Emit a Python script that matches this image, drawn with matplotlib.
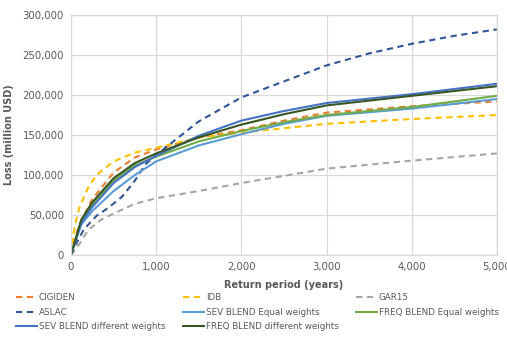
import matplotlib
matplotlib.use("Agg")
import matplotlib.pyplot as plt
from matplotlib.ticker import FuncFormatter

# return period (years) and losses (million USD)
rp_cigiden = [0, 50, 100, 250, 500, 750, 1000, 1500, 2000, 2500, 3000, 4000, 5000]
cigiden = [0, 22000, 38000, 70000, 103000, 122000, 132000, 147000, 156000, 168000, 178000, 186000, 192000]

rp_idb = [0, 25, 50, 100, 200, 300, 500, 750, 1000, 1500, 2000, 3000, 4000, 5000]
idb = [0, 24000, 38000, 60000, 84000, 100000, 117000, 128000, 134000, 147000, 153000, 164000, 170000, 175000]

rp_gar = [0, 50, 100, 200, 350, 500, 750, 1000, 1500, 2000, 3000, 4000, 5000]
gar15 = [0, 7000, 14000, 31000, 44000, 52000, 64000, 71000, 80000, 90000, 108000, 118000, 127000]

rp_aslac = [0, 50, 150, 300, 450, 600, 750, 870, 1000, 1500, 2000, 2500, 3000, 3500, 4000, 4500, 5000]
aslac = [0, 12000, 32000, 49000, 60000, 73000, 93000, 113000, 125000, 167000, 197000, 217000, 237000, 252000, 264000, 274000, 282000]

rp_blend = [0, 10, 120, 250, 500, 750, 1000, 1500, 2000, 2500, 3000, 4000, 5000]
sev_equal = [0, 4000, 38000, 55000, 80000, 100000, 117000, 137000, 151000, 164000, 174000, 183000, 195000]
freq_equal = [0, 4000, 42000, 63000, 93000, 112000, 123000, 142000, 155000, 166000, 175000, 185000, 199000]
sev_diff = [0, 4000, 40000, 60000, 90000, 110000, 124000, 149000, 168000, 180000, 190000, 201000, 214000]
freq_diff = [0, 4000, 44000, 66000, 96000, 115000, 127000, 147000, 163000, 176000, 187000, 199000, 211000]

grey = "#595959"
dash = (3, 2.2)

fig = plt.figure(figsize=(5.07, 3.41), dpi=100)
ax = fig.add_axes([0.140, 0.252, 0.840, 0.704])

l1, = ax.plot(rp_cigiden, cigiden, color="#ED7D31", lw=1.5, dashes=dash, label="CIGIDEN")
l2, = ax.plot(rp_idb, idb, color="#FFC000", lw=1.5, dashes=dash, label="IDB")
l3, = ax.plot(rp_gar, gar15, color="#A5A5A5", lw=1.5, dashes=dash, label="GAR15")
l4, = ax.plot(rp_aslac, aslac, color="#2F5597", lw=1.5, dashes=dash, label="ASLAC")
l5, = ax.plot(rp_blend, sev_equal, color="#5B9BD5", lw=1.5, label="SEV BLEND Equal weights")
l6, = ax.plot(rp_blend, freq_equal, color="#70AD47", lw=1.5, label="FREQ BLEND Equal weights")
l7, = ax.plot(rp_blend, sev_diff, color="#4472C4", lw=1.5, label="SEV BLEND different weights")
l8, = ax.plot(rp_blend, freq_diff, color="#375623", lw=1.5, label="FREQ BLEND different weights")

ax.set_xlim(0, 5000)
ax.set_ylim(0, 300000)
ax.set_xticks(range(0, 5001, 1000))
ax.set_yticks(range(0, 300001, 50000))
fmt = FuncFormatter(lambda v, p: f"{int(v):,}")
ax.xaxis.set_major_formatter(fmt)
ax.yaxis.set_major_formatter(fmt)
ax.tick_params(length=0, labelsize=7.3, labelcolor=grey, pad=5)
ax.grid(True, color="#D9D9D9", lw=0.9)
ax.set_axisbelow(True)
for s in ax.spines.values():
    s.set_color("#D9D9D9")
    s.set_linewidth(0.9)

ax.set_xlabel("Return period (years)", fontsize=7, fontweight="bold", color=grey, labelpad=6)
ax.set_ylabel("Loss (million USD)", fontsize=7, fontweight="bold", color=grey, labelpad=6)

# legend is filled column by column
handles = [l1, l4, l7, l2, l5, l8, l3, l6]
fig.legend(handles=handles, labels=[h.get_label() for h in handles],
           loc="upper left", bbox_to_anchor=(0.025, 0.15), ncol=3,
           frameon=False, fontsize=6.3, handlelength=2.4, handletextpad=0.2,
           columnspacing=2.0, labelspacing=0.62, borderaxespad=0,
           labelcolor=grey)

fig.savefig("out.png", dpi=100)
